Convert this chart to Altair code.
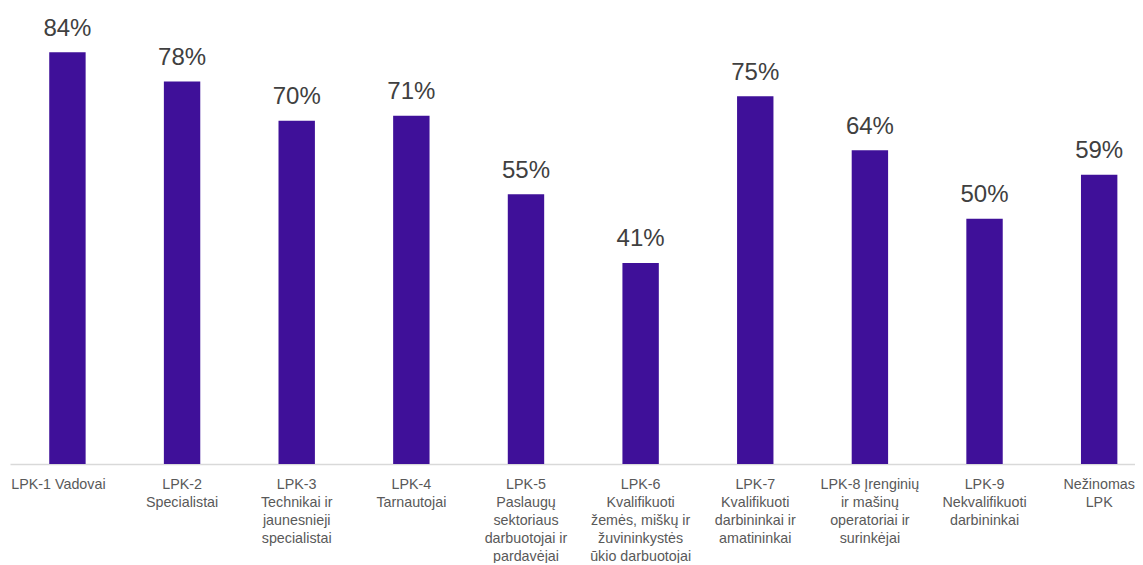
import altair as alt
import pandas as pd

categories = [
    "LPK-1 Vadovai",
    "LPK-2|Specialistai",
    "LPK-3|Technikai ir|jaunesnieji|specialistai",
    "LPK-4|Tarnautojai",
    "LPK-5|Paslaugų|sektoriaus|darbuotojai ir|pardavėjai",
    "LPK-6|Kvalifikuoti|žemės, miškų ir|žuvininkystės|ūkio darbuotojai",
    "LPK-7|Kvalifikuoti|darbininkai ir|amatininkai",
    "LPK-8 Įrenginių|ir mašinų|operatoriai ir|surinkėjai",
    "LPK-9|Nekvalifikuoti|darbininkai",
    "Nežinomas|LPK",
]
values = [84, 78, 70, 71, 55, 41, 75, 64, 50, 59]

df = pd.DataFrame({"category": categories, "value": values})

FONT = "Liberation Sans"
BAR = "#3F1099"

x_enc = alt.X(
    "category:N",
    sort=categories,
    title=None,
    scale=alt.Scale(paddingInner=0.6825, paddingOuter=0.248, align=0.69, round=False),
    axis=alt.Axis(
        labelAngle=0,
        labelExpr="split(datum.label, '|')",
        labelFont=FONT,
        labelFontSize=14.3,
        labelColor="#595959",
        labelLineHeight=18,
        labelBaseline="top",
        labelPadding=13,
        labelLimit=0,
        labelOverlap=False,
        labelOffset={"condition": {"test": "datum.value == 'LPK-1 Vadovai'", "value": -9}, "value": 0},
        ticks=False,
        domainColor="#d9d9d9",
        domainWidth=1.5,
        grid=False,
    ),
)
y_enc = alt.Y("value:Q", scale=alt.Scale(domain=[0, 93], nice=False, zero=True), axis=None)

base = alt.Chart(df)

bars = base.mark_bar(color=BAR).encode(x=x_enc, y=y_enc)

labels = base.transform_calculate(lbl="datum.value + '%'").mark_text(
    font=FONT, fontSize=24, color="#404040", baseline="alphabetic", dy=-16.5
).encode(x=x_enc, y=y_enc, text="lbl:N")

chart = (
    alt.layer(bars, labels)
    .properties(
        width=1125,
        height=456,
        background="white",
        autosize=alt.AutoSizeParams(type="none"),
        padding={"left": 2, "top": 0, "right": 0, "bottom": 99},
    )
    .configure_view(stroke=None, strokeWidth=0)
)

chart.save("out.html", embed_options={"renderer": "svg", "actions": False})
